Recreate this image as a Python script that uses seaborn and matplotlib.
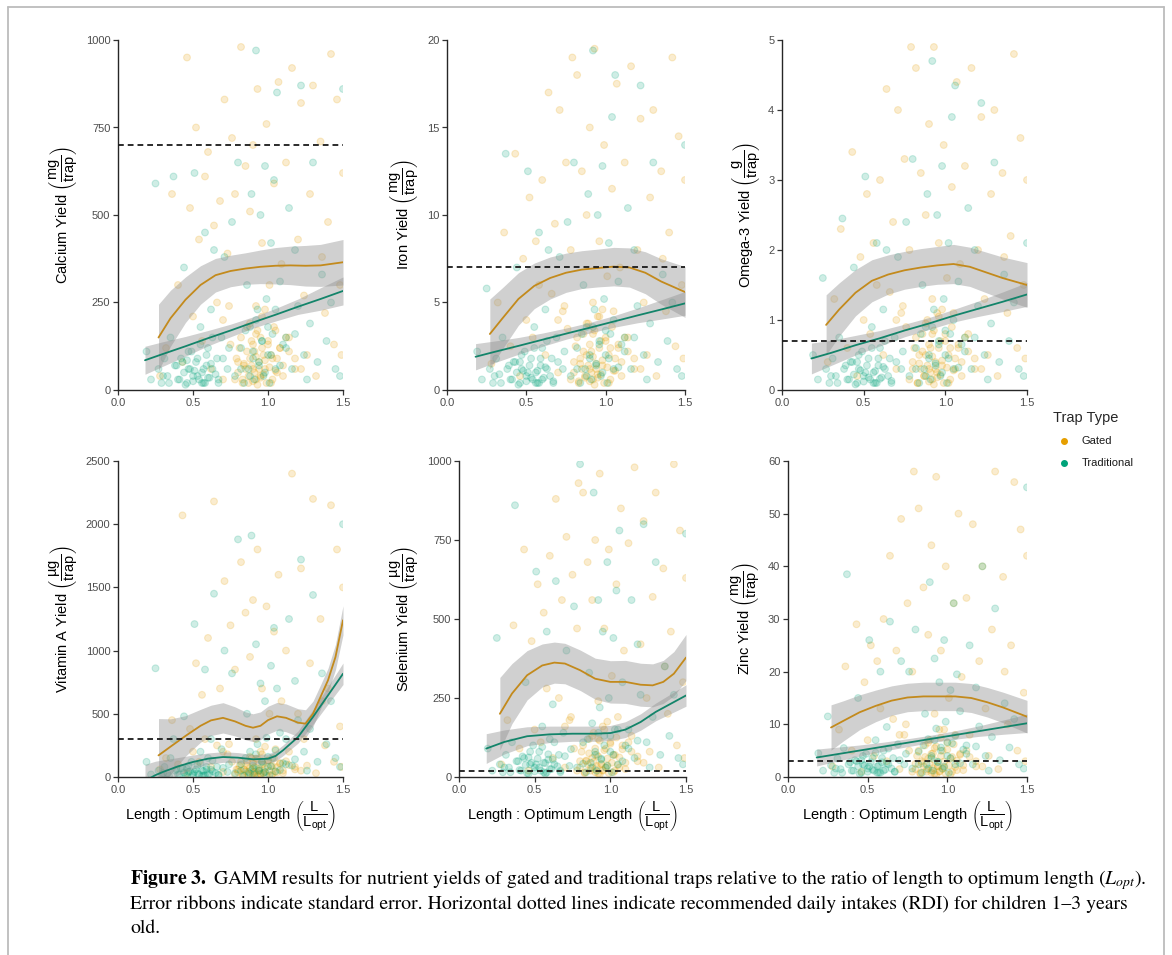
import numpy as np
import pandas as pd
import matplotlib
matplotlib.use("Agg")
import matplotlib.pyplot as plt
import seaborn as sns
from matplotlib.lines import Line2D

# ------------------------------------------------------------------ data
# length : optimum-length ratio of each observation (shared by all nutrients)
gated_x = [0.28, 0.32, 0.36, 0.40, 0.43, 0.46, 0.48, 0.50, 0.52, 0.54, 0.56, 0.58,
           0.60, 0.62, 0.64, 0.66, 0.68, 0.70, 0.71, 0.73, 0.75, 0.76, 0.78, 0.79,
           0.80, 0.81, 0.82, 0.83, 0.84, 0.85, 0.86, 0.87, 0.88, 0.88, 0.89, 0.90, 0.90,
           0.91, 0.92, 0.92, 0.93, 0.94, 0.95, 0.95, 0.96, 0.97, 0.98, 0.99, 1.00, 1.01,
           1.02, 1.03, 1.04, 1.05, 1.06, 1.07, 1.08, 1.09, 1.10,
           1.12, 1.14, 1.16, 1.18, 1.20, 1.22, 1.24, 1.26, 1.28, 1.30, 1.32, 1.35, 1.38,
           1.40, 1.42, 1.44, 1.46, 1.48, 1.49, 1.50, 1.36]
gated_x_dense = [0.78, 0.80, 0.82, 0.83, 0.85, 0.86, 0.87, 0.88, 0.89, 0.90,
                 0.90, 0.91, 0.92, 0.93, 0.93, 0.94, 0.95, 0.96, 0.96, 0.97,
                 0.98, 0.99, 1.00, 1.01, 1.02, 1.03, 1.04, 1.05, 1.06, 1.08,
                 1.10, 1.12, 0.70, 0.74, 0.84, 0.92, 0.98, 1.14, 1.18, 1.22]
trad_x = [0.19, 0.22, 0.25, 0.27, 0.29, 0.31, 0.33, 0.35, 0.37, 0.39,
          0.41, 0.43, 0.44, 0.46, 0.47, 0.49, 0.50, 0.51, 0.53, 0.54, 0.55, 0.56, 0.57,
          0.58, 0.59, 0.60, 0.61, 0.62, 0.63, 0.64, 0.66, 0.67, 0.69, 0.71, 0.73,
          0.76, 0.78, 0.80, 0.82, 0.84, 0.86, 0.87, 0.88, 0.89, 0.90, 0.91, 0.92, 0.93,
          0.94, 0.95, 0.96, 0.97, 0.98, 0.99, 1.00, 1.01, 1.02, 1.03, 1.04, 1.05, 1.06,
          1.08, 1.10,
          1.12, 1.14, 1.16, 1.18, 1.20, 1.22, 1.24, 1.26, 1.28, 1.30, 1.33, 1.36, 1.39,
          1.42, 1.45, 1.48, 1.50]
trad_x_dense = [0.30, 0.34, 0.38, 0.40, 0.42, 0.44, 0.45, 0.47, 0.48, 0.50,
                0.52, 0.53, 0.55, 0.56, 0.57, 0.59, 0.60, 0.62, 0.63, 0.65,
                0.67, 0.70, 0.74, 0.82, 0.85, 0.88, 0.90, 0.92, 0.94, 0.96,
                0.98, 1.00, 1.02, 1.05, 1.08, 1.12, 1.18, 0.58, 0.51, 0.46]

calcium_gated_y = [40, 120, 560, 300, 80, 950, 520, 210, 750, 430, 140, 610,
                   680, 60, 470, 250, 540, 30, 830, 390, 130, 720, 560, 90,
                   50, 120, 980, 30, 70, 640, 180, 20, 90, 510, 140, 60, 700, 110, 30, 240,
                   860, 80, 150, 40, 420, 100, 60, 760, 130, 300, 20, 90, 590, 170, 50, 880,
                   120, 360, 70,
                   650, 150, 920, 60, 430, 820, 270, 100, 560, 870, 40, 710, 220, 480, 960,
                   130, 830, 300, 100, 620, 380]
calcium_gated_y_dense = [30, 80, 150, 20, 60, 110, 40, 190, 70, 25, 130, 50, 95, 15, 170,
                         60, 35, 120, 210, 45, 85, 20, 140, 65, 100, 30, 180, 55, 90, 120,
                         40, 150, 200, 240, 75, 160, 230, 110, 90, 60]
calcium_trad_y = [110, 30, 590, 60, 20, 90, 40, 150, 610, 70,
                  30, 80, 350, 20, 60, 110, 40, 620, 90, 30, 180, 50, 20, 450, 70, 120, 35,
                  230, 60, 400, 90, 20, 150, 380, 60,
                  480, 40, 650, 120, 20, 300, 60, 180, 560, 90, 30, 970, 230, 70, 500, 140,
                  40, 640, 260, 100, 20, 420, 160, 600, 60, 850, 310, 130,
                  150, 520, 60, 400, 240, 870, 100, 30, 190, 650, 80, 330, 140, 250, 60, 40, 860]
calcium_trad_y_dense = [40, 20, 70, 30, 90, 50, 15, 110, 60, 25, 80, 40, 130, 20, 60, 100,
                        35, 75, 150, 45, 30, 90, 120, 60, 170, 40, 110, 200, 80, 140, 50,
                        180, 100, 230, 70, 120, 160, 20, 55, 85]

iron_gated_y = [1.5, 5.0, 9.0, 2.5, 13.5, 0.8, 7.5, 4.0, 11.0, 3.0, 8.5, 6.0,
                12.0, 2.0, 17.0, 5.5, 9.5, 1.0, 16.0, 4.5, 13.0, 3.5, 8.0, 19.0,
                1.0, 2.5, 18.0, 0.5, 1.8, 12.5, 3.2, 0.7, 2.0, 10.0, 3.8, 1.2, 15.0, 2.2,
                0.6, 5.0, 19.5, 1.5, 4.2, 0.9, 8.5, 2.8, 1.4, 14.0, 3.0, 6.5, 0.4, 2.4,
                11.5, 4.5, 1.1, 17.5, 2.6, 7.0, 1.6,
                13.0, 3.0, 18.5, 1.2, 8.0, 15.5, 5.0, 2.0, 11.0, 16.0, 0.8, 12.5, 4.5, 9.0,
                19.0, 2.5, 14.5, 6.0, 1.8, 12.0, 7.5]
iron_gated_y_dense = [0.6, 1.6, 3.0, 0.4, 1.2, 2.2, 0.8, 3.8, 1.4, 0.5, 2.6, 1.0, 1.9, 0.3,
                      3.4, 1.2, 0.7, 2.4, 4.2, 0.9, 1.7, 0.4, 2.8, 1.3, 2.0, 0.6, 3.6, 1.1,
                      1.8, 2.4, 0.8, 3.0, 4.0, 4.8, 1.5, 3.2, 4.6, 2.2, 1.8, 1.2]
iron_trad_y = [2.2, 0.6, 5.8, 1.2, 0.4, 1.8, 0.9, 3.0, 13.5, 1.4,
               0.6, 1.6, 7.0, 0.4, 1.2, 2.2, 0.8, 12.5, 1.8, 0.6, 3.6, 1.0, 0.4, 9.0, 1.4,
               2.4, 0.7, 4.6, 1.2, 8.0, 1.8, 0.4, 3.0, 7.6, 1.2,
               9.6, 0.8, 13.0, 2.4, 0.4, 6.0, 1.2, 3.6, 11.2, 1.8, 0.6, 19.4, 4.6, 1.4, 10.0,
               2.8, 0.8, 12.8, 5.2, 2.0, 0.4, 8.4, 3.2, 15.6, 1.2, 18.0, 6.2, 2.6,
               3.0, 10.4, 1.2, 8.0, 4.8, 17.4, 2.0, 0.6, 3.8, 13.0, 1.6, 6.6, 2.8, 5.0, 1.2,
               0.8, 14.0]
iron_trad_y_dense = [0.8, 0.4, 1.2, 0.6, 1.6, 1.0, 0.3, 2.0, 1.1, 0.5, 1.4, 0.7, 2.4, 0.4,
                     1.1, 1.8, 0.6, 1.3, 2.8, 0.8, 0.5, 1.6, 2.2, 1.2, 3.2, 0.8, 2.0, 3.6,
                     1.5, 2.6, 1.0, 3.4, 1.8, 4.0, 1.3, 2.2, 3.0, 0.4, 1.0, 1.6]

omega_gated_y = [0.4, 1.3, 2.3, 0.6, 3.4, 0.2, 1.9, 1.0, 2.8, 0.8, 2.1, 1.5,
                 3.0, 0.5, 4.3, 1.4, 2.4, 0.3, 4.0, 1.1, 3.3, 0.9, 2.0, 4.9,
                 0.3, 0.6, 4.6, 0.1, 0.5, 3.1, 0.8, 0.2, 0.5, 2.5, 1.0, 0.3, 3.8, 0.6, 0.15,
                 1.3, 4.9, 0.4, 1.1, 0.25, 2.1, 0.7, 0.35, 3.5, 0.8, 1.6, 0.1, 0.6, 2.9, 1.1,
                 0.3, 4.4, 0.65, 1.8, 0.4,
                 3.2, 0.8, 4.6, 0.3, 2.0, 3.9, 1.3, 0.5, 2.8, 4.0, 0.2, 3.1, 1.1, 2.2, 4.8,
                 0.6, 3.6, 1.5, 0.45, 3.0, 1.9]
omega_gated_y_dense = [0.15, 0.4, 0.75, 0.1, 0.3, 0.55, 0.2, 0.95, 0.35, 0.12, 0.65, 0.25,
                       0.48, 0.08, 0.85, 0.3, 0.18, 0.6, 1.05, 0.22, 0.42, 0.1, 0.7, 0.32,
                       0.5, 0.15, 0.9, 0.28, 0.45, 0.6, 0.2, 0.75, 1.0, 1.2, 0.38, 0.8, 1.15,
                       0.55, 0.45, 0.3]
omega_trad_y = [0.5, 0.15, 1.6, 0.3, 0.1, 0.45, 0.2, 0.75, 2.45, 0.35,
                0.15, 0.4, 1.75, 0.1, 0.3, 0.55, 0.2, 3.05, 0.45, 0.15, 0.9, 0.25, 0.1, 2.1,
                0.35, 0.6, 0.18, 1.15, 0.3, 2.0, 0.45, 0.1, 0.75, 1.9, 0.3,
                2.4, 0.2, 3.3, 0.6, 0.1, 1.5, 0.3, 0.9, 2.8, 0.45, 0.15, 4.7, 1.15, 0.35, 2.5,
                0.7, 0.2, 3.2, 1.3, 0.5, 0.1, 2.1, 0.8, 3.9, 0.3, 4.35, 1.55, 0.65,
                0.75, 2.6, 0.3, 2.0, 1.2, 4.1, 0.5, 0.15, 0.95, 3.25, 0.4, 1.65, 0.7, 1.25,
                0.3, 0.2, 2.1]
omega_trad_y_dense = [0.2, 0.1, 0.3, 0.15, 0.4, 0.22, 0.08, 0.5, 0.28, 0.12, 0.35, 0.18,
                      0.6, 0.1, 0.27, 0.45, 0.16, 0.33, 0.7, 0.2, 0.13, 0.4, 0.55, 0.3, 0.8,
                      0.2, 0.5, 0.9, 0.38, 0.65, 0.25, 0.85, 0.45, 1.0, 0.32, 0.55, 0.75,
                      0.1, 0.25, 0.4]

vita_gated_y = [60, 150, 450, 100, 2070, 30, 380, 200, 900, 120, 650, 300,
                1100, 80, 2180, 250, 700, 40, 1550, 180, 1200, 120, 850, 60,
                40, 90, 1700, 20, 60, 1300, 120, 15, 70, 950, 150, 30, 1400, 80, 20, 300,
                1800, 50, 200, 25, 700, 100, 40, 1350, 130, 500, 10, 90, 1150, 220, 35,
                1600, 110, 600, 50,
                1000, 200, 2400, 60, 500, 1650, 300, 90, 900, 2200, 30, 1250, 250, 700,
                2150, 120, 1800, 400, 80, 1500, 600]
vita_gated_y_dense = [20, 60, 120, 10, 45, 90, 30, 160, 55, 15, 110, 40, 75, 8, 140, 50, 25,
                      100, 180, 35, 70, 12, 130, 48, 85, 22, 150, 42, 78, 105, 30, 125, 200,
                      260, 62, 145, 240, 95, 80, 50]
vita_trad_y = [120, 20, 860, 50, 10, 80, 30, 150, 300, 60,
               20, 70, 480, 10, 40, 120, 30, 1210, 90, 20, 200, 50, 10, 850, 60, 150, 25,
               300, 45, 1450, 80, 15, 220, 1000, 40,
               820, 30, 1880, 100, 10, 500, 40, 200, 1910, 70, 20, 1050, 260, 50, 740, 120,
               30, 600, 310, 80, 15, 880, 150, 1180, 45, 700, 350, 110,
               300, 1250, 90, 760, 450, 1720, 200, 50, 380, 1440, 120, 820, 260, 600, 150,
               80, 2000]
vita_trad_y_dense = [30, 10, 50, 20, 70, 35, 8, 90, 45, 15, 60, 28, 110, 12, 48, 80, 22, 58,
                     130, 32, 18, 72, 100, 50, 150, 30, 90, 180, 65, 120, 40, 160, 85, 210,
                     55, 100, 140, 14, 40, 66]

selenium_gated_y = [40, 180, 480, 90, 720, 20, 430, 150, 610, 110, 520, 280,
                    700, 60, 880, 250, 560, 30, 760, 180, 640, 90, 470, 930,
                    30, 80, 900, 15, 50, 680, 120, 20, 60, 560, 140, 25, 750, 70, 10, 240,
                    960, 40, 160, 20, 470, 90, 35, 720, 110, 320, 15, 70, 610, 190, 30, 850,
                    100, 400, 45,
                    740, 130, 980, 50, 420, 810, 250, 80, 570, 900, 30, 660, 200, 460, 990,
                    100, 780, 300, 60, 630, 350]
selenium_gated_y_dense = [20, 50, 100, 12, 40, 75, 28, 130, 48, 15, 90, 35, 65, 8, 115, 42,
                          22, 85, 150, 30, 58, 12, 105, 45, 70, 20, 125, 38, 62, 88, 25, 110,
                          160, 190, 52, 120, 175, 80, 65, 45]
selenium_trad_y = [90, 20, 440, 40, 15, 70, 30, 110, 860, 50,
                   20, 60, 300, 10, 40, 100, 30, 650, 80, 20, 160, 45, 10, 460, 55, 120, 25,
                   230, 40, 620, 70, 15, 140, 400, 35,
                   540, 30, 990, 110, 15, 330, 45, 170, 900, 70, 20, 560, 220, 55, 460, 130,
                   30, 680, 250, 80, 15, 440, 150, 590, 40, 780, 300, 100,
                   150, 560, 60, 420, 260, 800, 110, 30, 190, 680, 70, 350, 130, 260, 60, 40,
                   770]
selenium_trad_y_dense = [30, 15, 50, 22, 65, 38, 12, 80, 45, 18, 58, 30, 95, 15, 44, 72, 25,
                         55, 110, 34, 20, 66, 88, 42, 120, 30, 80, 140, 58, 100, 36, 130, 70,
                         150, 50, 90, 115, 14, 40, 62]

zinc_gated_y = [2, 9, 21, 5, 29, 1, 18, 7, 25, 4, 22, 13,
                30, 3, 42, 11, 24, 1.5, 49, 8, 33, 5, 20, 58,
                1.5, 4, 51, 0.8, 3, 36, 6, 1, 3.5, 27, 7, 1.2, 44, 4.5, 0.6, 12, 57, 2, 9, 1,
                24, 5, 1.8, 40, 6.5, 15, 0.5, 3.8, 33, 8, 1.3, 50, 4.2, 19, 2.2,
                34, 8, 48, 2, 22, 40, 13, 4, 28, 58, 1.5, 38, 10, 25, 56, 5, 47, 16, 3, 42, 20]
zinc_gated_y_dense = [1.0, 2.5, 5.0, 0.6, 2.0, 3.8, 1.4, 6.5, 2.4, 0.8, 4.4, 1.7, 3.2, 0.4,
                      5.8, 2.0, 1.1, 4.0, 7.5, 1.5, 2.9, 0.6, 5.2, 2.2, 3.5, 1.0, 6.2, 1.9,
                      3.1, 4.4, 1.3, 5.0, 8.0, 10.0, 2.6, 5.5, 9.0, 3.8, 3.0, 2.0]
zinc_trad_y = [4.5, 1.2, 11.5, 2.2, 0.8, 3.5, 1.5, 5.5, 38.5, 2.8,
               1.2, 3.0, 15.0, 0.8, 2.4, 4.4, 1.6, 26.0, 3.6, 1.2, 7.0, 2.0, 0.8, 20.0, 2.8,
               5.0, 1.4, 9.5, 2.4, 29.5, 3.6, 1.0, 6.2, 22.0, 2.4,
               20.0, 1.6, 28.0, 4.8, 0.8, 12.0, 2.4, 7.2, 37.0, 3.6, 1.2, 22.5, 9.2, 2.8, 18.0,
               5.6, 1.6, 26.0, 10.5, 4.0, 0.8, 16.5, 6.4, 33.0, 2.4, 19.5, 12.5, 5.2,
               6.0, 25.0, 2.4, 17.0, 9.6, 40.0, 4.0, 1.2, 7.6, 32.0, 3.2, 14.0, 5.6, 11.0, 2.4,
               1.6, 55.0]
zinc_trad_y_dense = [1.6, 0.8, 2.4, 1.2, 3.2, 2.0, 0.6, 4.0, 2.2, 1.0, 2.8, 1.4, 4.6, 0.8,
                     2.2, 3.6, 1.2, 2.6, 5.4, 1.6, 1.0, 3.2, 4.4, 2.4, 6.0, 1.6, 4.0, 7.0,
                     2.9, 5.0, 2.0, 6.6, 3.6, 7.8, 2.6, 4.4, 5.8, 0.8, 2.0, 3.2]

# GAMM fits (value, lower and upper standard-error bounds)
fit_x_gated = [0.27, 0.35, 0.45, 0.55, 0.65, 0.75, 0.85, 0.95, 1.05, 1.15, 1.25, 1.35, 1.5]
fit_x_trad = [0.18, 0.3, 0.45, 0.6, 0.75, 0.9, 1.05, 1.2, 1.35, 1.5]

calcium_gated_fit = [150, 205, 258, 300, 328, 340, 347, 352, 355, 356, 355, 356, 365]
calcium_gated_lo = [55, 125, 193, 245, 280, 295, 302, 304, 303, 301, 297, 296, 300]
calcium_gated_hi = [245, 285, 323, 355, 376, 385, 392, 400, 407, 411, 413, 416, 430]
calcium_trad_fit = [85, 103, 125, 148, 170, 193, 215, 238, 260, 283]
calcium_trad_lo = [45, 68, 97, 126, 152, 177, 197, 216, 228, 243]
calcium_trad_hi = [125, 138, 153, 170, 188, 209, 233, 260, 292, 323]

iron_gated_fit = [3.2, 4.1, 5.2, 5.95, 6.4, 6.7, 6.88, 6.97, 7.05, 7.0, 6.7, 6.2, 5.6]
iron_gated_lo = [1.2, 2.35, 3.7, 4.65, 5.2, 5.58, 5.8, 5.89, 5.95, 5.88, 5.5, 4.9, 4.15]
iron_gated_hi = [5.2, 5.85, 6.7, 7.25, 7.6, 7.82, 7.96, 8.05, 8.15, 8.12, 7.9, 7.5, 7.05]
iron_trad_fit = [1.9, 2.18, 2.52, 2.87, 3.22, 3.56, 3.91, 4.26, 4.6, 4.95]
iron_trad_lo = [1.15, 1.56, 2.04, 2.49, 2.9, 3.26, 3.58, 3.84, 4.05, 4.27]
iron_trad_hi = [2.65, 2.8, 3.0, 3.25, 3.54, 3.86, 4.24, 4.68, 5.15, 5.63]

omega_gated_fit = [0.93, 1.15, 1.39, 1.56, 1.65, 1.71, 1.75, 1.78, 1.8, 1.76, 1.68, 1.6, 1.5]
omega_gated_lo = [0.5, 0.77, 1.06, 1.26, 1.37, 1.44, 1.48, 1.51, 1.52, 1.48, 1.39, 1.3, 1.18]
omega_gated_hi = [1.36, 1.53, 1.72, 1.86, 1.93, 1.98, 2.02, 2.05, 2.08, 2.04, 1.97, 1.9, 1.82]
omega_trad_fit = [0.45, 0.53, 0.64, 0.74, 0.85, 0.95, 1.06, 1.16, 1.26, 1.365]
omega_trad_lo = [0.23, 0.35, 0.5, 0.63, 0.76, 0.865, 0.97, 1.05, 1.12, 1.195]
omega_trad_hi = [0.67, 0.71, 0.78, 0.85, 0.94, 1.035, 1.15, 1.27, 1.4, 1.535]

vita_fit_x_gated = [0.27, 0.35, 0.45, 0.55, 0.62, 0.7, 0.78, 0.85, 0.9, 0.95, 1.0, 1.06,
                    1.12, 1.2, 1.25, 1.3, 1.35, 1.4, 1.45, 1.5]
vita_gated_fit = [171, 240, 325, 405, 448, 468, 440, 405, 390, 405, 450, 480, 468, 430, 422,
                  500, 633, 765, 950, 1240]
vita_gated_lo = [-120, 20, 165, 275, 328, 348, 325, 295, 280, 295, 340, 370, 358, 320, 312,
                 400, 538, 670, 850, 1125]
vita_gated_hi = [462, 460, 485, 535, 568, 588, 555, 515, 500, 515, 560, 590, 578, 540, 532,
                 600, 728, 860, 1050, 1355]
vita_fit_x_trad = [0.18, 0.25, 0.3, 0.4, 0.5, 0.6, 0.7, 0.8, 0.9, 1.0, 1.05, 1.1, 1.2, 1.3,
                   1.4, 1.5]
vita_trad_fit = [-30, 15, 40, 84, 119, 145, 158, 153, 140, 145, 166, 211, 316, 475, 646, 817]
vita_trad_lo = [-160, -95, -55, 14, 64, 100, 116, 113, 102, 107, 126, 169, 268, 417, 576, 732]
vita_trad_hi = [100, 125, 135, 154, 174, 190, 200, 193, 178, 183, 206, 253, 364, 533, 716, 902]

selenium_fit_x_gated = [0.27, 0.35, 0.45, 0.55, 0.63, 0.7, 0.8, 0.9, 1.0, 1.1, 1.2, 1.28,
                        1.35, 1.42, 1.5]
selenium_gated_fit = [200, 264, 322, 353, 362, 359, 338, 311, 301, 301, 292, 290, 301, 327, 378]
selenium_gated_lo = [85, 169, 244, 285, 297, 295, 274, 246, 234, 233, 224, 222, 233, 257, 305]
selenium_gated_hi = [315, 359, 400, 421, 427, 423, 402, 376, 368, 369, 360, 358, 369, 397, 451]
selenium_fit_x_trad = [0.18, 0.3, 0.45, 0.6, 0.75, 0.9, 1.0, 1.1, 1.2, 1.3, 1.4, 1.5]
selenium_trad_fit = [90, 111, 129, 135, 137, 137, 139, 150, 174, 206, 232, 258]
selenium_trad_lo = [43, 73, 99, 109, 113, 113, 115, 125, 148, 178, 201, 224]
selenium_trad_hi = [137, 149, 159, 161, 161, 161, 163, 175, 200, 234, 263, 292]

zinc_gated_fit = [9.4, 10.7, 12.3, 13.5, 14.5, 15.1, 15.3, 15.3, 15.3, 15.0, 14.2, 13.2, 11.45]
zinc_gated_lo = [5.1, 6.9, 9.0, 10.5, 11.7, 12.4, 12.6, 12.6, 12.6, 12.25, 11.4, 10.3, 8.35]
zinc_gated_hi = [13.7, 14.5, 15.6, 16.5, 17.3, 17.8, 18.0, 18.0, 18.0, 17.75, 17.0, 16.1, 14.55]
zinc_trad_fit = [3.7, 4.29, 5.03, 5.77, 6.51, 7.25, 7.98, 8.72, 9.46, 10.2]
zinc_trad_lo = [2.1, 2.94, 3.98, 4.92, 5.76, 6.55, 7.18, 7.72, 8.11, 8.45]
zinc_trad_hi = [5.3, 5.64, 6.08, 6.62, 7.26, 7.95, 8.78, 9.72, 10.81, 11.95]

# recommended daily intakes (dashed lines)
rdi_values = [700, 7, 0.7, 300, 20, 3]
nutrient_labels = ["Calcium Yield", "Iron Yield", "Omega-3 Yield",
                   "Vitamin A Yield", "Selenium Yield", "Zinc Yield"]
unit_labels = ["mg", "mg", "g", "µg", "µg", "mg"]
y_ticks = [[0, 250, 500, 750, 1000], [0, 5, 10, 15, 20], [0, 1, 2, 3, 4, 5],
           [0, 500, 1000, 1500, 2000, 2500], [0, 250, 500, 750, 1000],
           [0, 10, 20, 30, 40, 50, 60]]
x_ticks = [0.0, 0.5, 1.0, 1.5]
x_tick_labels = ["0.0", "0.5", "1.0", "1.5"]
trap_types = ["Gated", "Traditional"]

# ------------------------------------------------------------------ style
sns.set_theme(style="ticks")
plt.rcParams["font.family"] = ["Liberation Sans", "DejaVu Sans"]
plt.rcParams["mathtext.fontset"] = "custom"
plt.rcParams["mathtext.rm"] = "Liberation Sans"
plt.rcParams["mathtext.it"] = "Liberation Sans:italic"
plt.rcParams["mathtext.bf"] = "Liberation Sans:bold"

point_palette = {"Gated": "#E69F00", "Traditional": "#00A37A"}
line_palette = {"Gated": "#C38A1C", "Traditional": "#13846A"}

W, H = 1172, 955
fig = plt.figure(figsize=(W / 100, H / 100), dpi=100, facecolor="white")

rects = [(118, 40, 343, 390), (447, 40, 685, 390), (782, 40, 1027, 390),
         (118, 461, 343, 777), (459, 461, 686, 777), (788, 461, 1027, 777)]

panels = [
    (calcium_gated_y + calcium_gated_y_dense, calcium_trad_y + calcium_trad_y_dense,
     fit_x_gated, calcium_gated_fit, calcium_gated_lo, calcium_gated_hi,
     fit_x_trad, calcium_trad_fit, calcium_trad_lo, calcium_trad_hi),
    (iron_gated_y + iron_gated_y_dense, iron_trad_y + iron_trad_y_dense,
     fit_x_gated, iron_gated_fit, iron_gated_lo, iron_gated_hi,
     fit_x_trad, iron_trad_fit, iron_trad_lo, iron_trad_hi),
    (omega_gated_y + omega_gated_y_dense, omega_trad_y + omega_trad_y_dense,
     fit_x_gated, omega_gated_fit, omega_gated_lo, omega_gated_hi,
     fit_x_trad, omega_trad_fit, omega_trad_lo, omega_trad_hi),
    (vita_gated_y + vita_gated_y_dense, vita_trad_y + vita_trad_y_dense,
     vita_fit_x_gated, vita_gated_fit, vita_gated_lo, vita_gated_hi,
     vita_fit_x_trad, vita_trad_fit, vita_trad_lo, vita_trad_hi),
    (selenium_gated_y + selenium_gated_y_dense, selenium_trad_y + selenium_trad_y_dense,
     selenium_fit_x_gated, selenium_gated_fit, selenium_gated_lo, selenium_gated_hi,
     selenium_fit_x_trad, selenium_trad_fit, selenium_trad_lo, selenium_trad_hi),
    (zinc_gated_y + zinc_gated_y_dense, zinc_trad_y + zinc_trad_y_dense,
     fit_x_gated, zinc_gated_fit, zinc_gated_lo, zinc_gated_hi,
     fit_x_trad, zinc_trad_fit, zinc_trad_lo, zinc_trad_hi),
]

all_gated_x = gated_x + gated_x_dense
all_trad_x = trad_x + trad_x_dense

for i, (gy, ty, gfx, gfit, glo, ghi, tfx, tfit, tlo, thi) in enumerate(panels):
    l, t, r, b = rects[i]
    ax = fig.add_axes([l / W, 1 - b / H, (r - l) / W, (b - t) / H])
    ax.set_facecolor("white")

    pts = pd.DataFrame({
        "ratio": all_gated_x + all_trad_x,
        "yield": gy + ty,
        "Trap Type": [trap_types[0]] * len(all_gated_x) + [trap_types[1]] * len(all_trad_x),
    })
    sns.scatterplot(data=pts, x="ratio", y="yield", hue="Trap Type",
                    palette=point_palette, s=24, alpha=0.19, linewidth=0.8,
                    edgecolor="face", legend=False, ax=ax, zorder=1)

    ax.fill_between(gfx, glo, ghi, color="#8f8f8f", alpha=0.42, lw=0, zorder=2)
    ax.fill_between(tfx, tlo, thi, color="#8f8f8f", alpha=0.42, lw=0, zorder=2)
    sns.lineplot(x=gfx, y=gfit, color=line_palette["Gated"], lw=1.3,
                 estimator=None, sort=False, ax=ax, zorder=3)
    sns.lineplot(x=tfx, y=tfit, color=line_palette["Traditional"], lw=1.3,
                 estimator=None, sort=False, ax=ax, zorder=3)

    ax.axhline(rdi_values[i], color="#1a1a1a", lw=1.3, ls=(0, (3.2, 2.2)), zorder=4)

    ax.set_xlim(0, 1.5)
    ax.set_ylim(0, y_ticks[i][-1])
    ax.set_xticks(x_ticks)
    ax.set_xticklabels(x_tick_labels)
    ax.set_yticks(y_ticks[i])
    ax.set_yticklabels([str(v) for v in y_ticks[i]])
    for side in ["top", "right"]:
        ax.spines[side].set_visible(False)
    for side in ["left", "bottom"]:
        ax.spines[side].set_color("#262626")
        ax.spines[side].set_linewidth(1.0)
    ax.tick_params(axis="both", direction="out", length=3.5, width=0.9,
                   color="#333333", labelcolor="#4D4D4D", labelsize=8, pad=2)
    ax.grid(False)

    unit = unit_labels[i]
    ax.set_ylabel(nutrient_labels[i] + r" $\left(\dfrac{\mathrm{" + unit +
                  r"}}{\mathrm{trap}}\right)$", fontsize=10.5, color="black", labelpad=4)
    if i >= 3:
        ax.set_xlabel(r"Length : Optimum Length $\left(\dfrac{\mathrm{L}}"
                      r"{\mathrm{L}_{\mathrm{opt}}}\right)$", fontsize=10.5,
                      color="black", labelpad=3)
    else:
        ax.set_xlabel("")

# ------------------------------------------------------------------ legend
fig.text(1053 / W, 1 - 418 / H, "Trap Type", fontsize=10.5, ha="left", va="center")
for name, yy in zip(trap_types, [441, 463]):
    fig.add_artist(Line2D([1064 / W], [1 - yy / H], marker="o", markersize=4,
                          color=point_palette[name], lw=0, transform=fig.transFigure))
    fig.text(1082 / W, 1 - yy / H, name, fontsize=8, ha="left", va="center",
             color="#1a1a1a")

# ------------------------------------------------------------------ caption
caption_lines = [
    r"$\mathbf{Figure\ 3.}$ GAMM results for nutrient yields of gated and traditional traps "
    r"relative to the ratio of length to optimum length ($L_{opt}$).",
    "Error ribbons indicate standard error. Horizontal dotted lines indicate recommended "
    "daily intakes (RDI) for children 1\u20133 years",
    "old.",
]
for line, yy in zip(caption_lines, [880, 904, 928]):
    fig.text(130 / W, 1 - yy / H, line, fontsize=14.2, family="STIXGeneral",
             math_fontfamily="stix", ha="left", va="center", color="black")

# ------------------------------------------------------------------ frame
frame_kw = dict(transform=fig.transFigure, color="#bcbcbc", lw=1.3)
fig.add_artist(Line2D([8 / W, 8 / W], [0, 1 - 7 / H], **frame_kw))
fig.add_artist(Line2D([8 / W, 1164 / W], [1 - 7 / H, 1 - 7 / H], **frame_kw))
fig.add_artist(Line2D([1164 / W, 1164 / W], [0, 1 - 7 / H], **frame_kw))

fig.savefig("out.png", dpi=100, facecolor="white")
